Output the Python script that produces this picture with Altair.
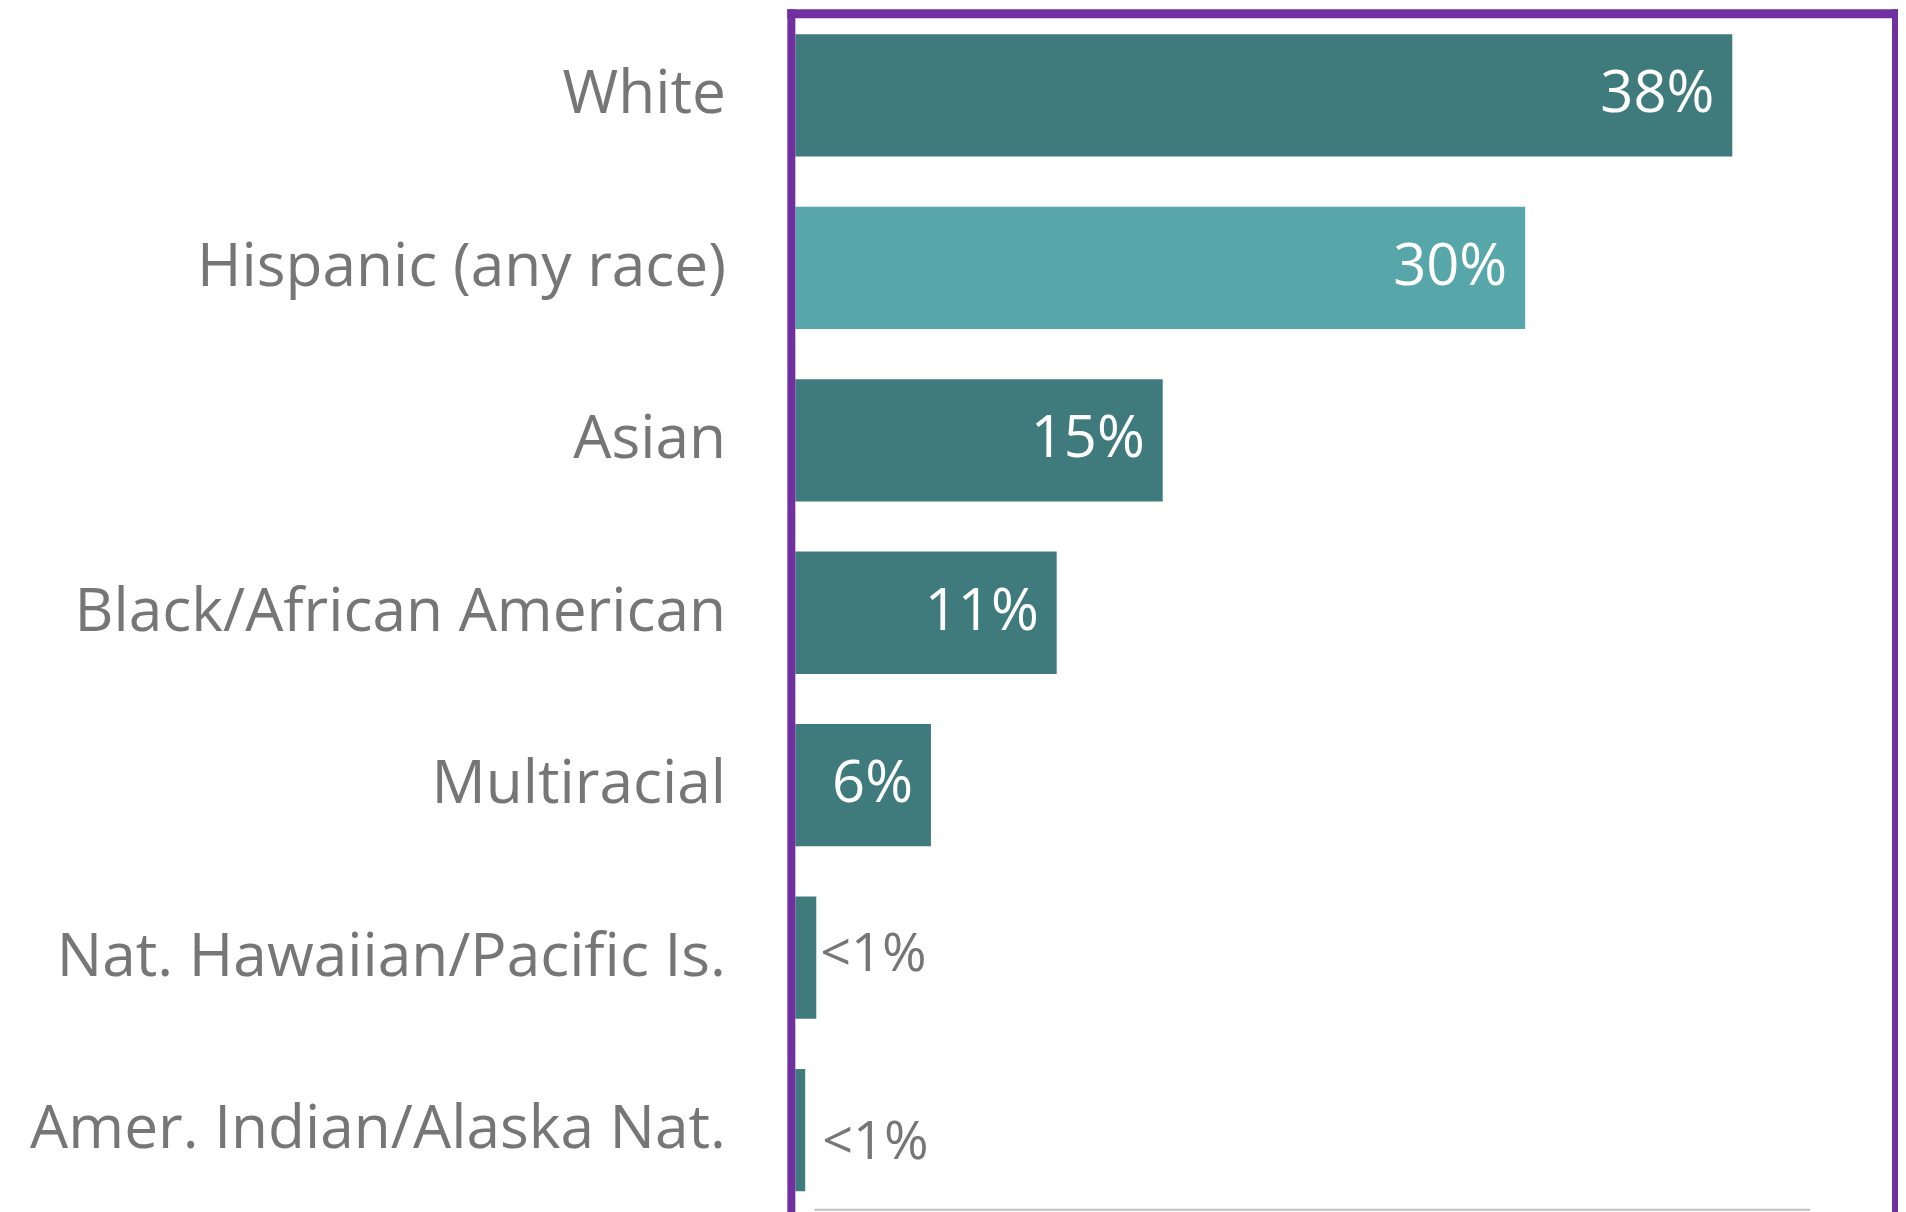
import altair as alt
import pandas as pd

categories = [
    "White",
    "Hispanic (any race)",
    "Asian",
    "Black/African American",
    "Multiracial",
    "Nat. Hawaiian/Pacific Is.",
    "Amer. Indian/Alaska Nat.",
]
values = [38.0, 29.6, 14.9, 10.6, 5.5, 0.85, 0.4]
labels = ["38%", "30%", "15%", "11%", "6%", "<1%", "<1%"]
groups = ["base", "highlight", "base", "base", "base", "base", "base"]
inside = [True, True, True, True, True, False, False]

df = pd.DataFrame({
    "category": categories,
    "value": values,
    "label": labels,
    "group": groups,
    "inside": inside,
})

W = 1103
H = 1209.5
FONT = "Open Sans"
GRAY = "#767676"
PURPLE = "#7030A0"

y_enc = alt.Y(
    "category:N",
    sort=categories,
    scale=alt.Scale(paddingInner=0.291, paddingOuter=0.1447),
    axis=alt.Axis(
        title=None, ticks=False, domain=False, labelFont=FONT,
        labelFontSize=60.5, labelColor=GRAY, labelPadding=70, labelLimit=0,
    ),
)
x_enc = alt.X("value:Q", scale=alt.Scale(domain=[0, 44.64], nice=False, zero=True), axis=None)

bars = alt.Chart(df).mark_bar().encode(
    x=x_enc,
    y=y_enc,
    color=alt.Color(
        "group:N",
        scale=alt.Scale(domain=["base", "highlight"], range=["#3F7A7C", "#57A6AA"]),
        legend=None,
    ),
)

inside_labels = alt.Chart(df).transform_filter("datum.inside").mark_text(
    align="right", baseline="middle", dx=-18, color="white", font=FONT, fontSize=58
).encode(x=x_enc, y=y_enc, text="label:N")

outside_a = alt.Chart(df).transform_filter(
    alt.datum.category == categories[5]
).mark_text(
    align="left", baseline="middle", color=GRAY, font=FONT, fontSize=54, dy=-3
).encode(x=alt.value(25), y=y_enc, text="label:N")

outside_b = alt.Chart(df).transform_filter(
    alt.datum.category == categories[6]
).mark_text(
    align="left", baseline="middle", color=GRAY, font=FONT, fontSize=54, dy=13
).encode(x=alt.value(27), y=y_enc, text="label:N")

one = pd.DataFrame({"k": [0]})
top_line = alt.Chart(one).mark_rule(color=PURPLE, strokeWidth=9).encode(
    x=alt.value(-8), x2=alt.value(1107), y=alt.value(4.5)
)
left_line = alt.Chart(one).mark_rule(color=PURPLE, strokeWidth=8).encode(
    x=alt.value(-4), y=alt.value(0), y2=alt.value(1400)
)
right_line = alt.Chart(one).mark_rule(color=PURPLE, strokeWidth=8).encode(
    x=alt.value(1103), y=alt.value(0), y2=alt.value(1400)
)
gray_line = alt.Chart(one).mark_rule(color="#BFBFBF", strokeWidth=2).encode(
    x=alt.value(19), x2=alt.value(1017), y=alt.value(1203)
)

chart = alt.layer(
    bars, inside_labels, outside_a, outside_b, gray_line, top_line, left_line, right_line
).properties(
    width=W,
    height=H,
    autosize=alt.AutoSizeParams(type="none"),
    padding={"left": 789, "top": 0, "right": 2, "bottom": 0},
    background="white",
).configure_view(stroke=None)

chart.save("out.html", embed_options={"renderer": "svg", "actions": False})
